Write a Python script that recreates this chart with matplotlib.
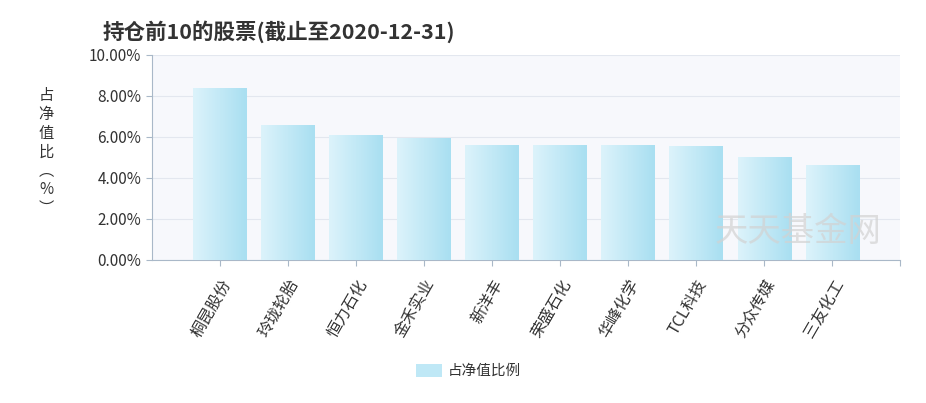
import numpy as np
import matplotlib
matplotlib.use("Agg")
import matplotlib.pyplot as plt
from matplotlib.colors import LinearSegmentedColormap
from matplotlib.patches import Rectangle

plt.rcParams['font.family'] = ['Noto Sans CJK SC', 'DejaVu Sans']

STOCKS = ["桐昆股份", "玲珑轮胎", "恒力石化", "金禾实业", "新洋丰",
          "荣盛石化", "华峰化学", "TCL科技", "分众传媒", "三友化工"]
RATIOS = [8.34, 6.54, 6.05, 5.90, 5.56, 5.56, 5.56, 5.51, 4.98, 4.59]
YTICKS = [0, 2, 4, 6, 8, 10]

cmap = LinearSegmentedColormap.from_list("bar", ["#dcf3fb", "#a9dff1"])
grad = np.linspace(0, 1, 64).reshape(1, -1)

fig = plt.figure(figsize=(9.26, 4.03), dpi=100)
ax = fig.add_axes([0.164, 0.355, 0.808, 0.509])
ax.set_facecolor("#f7f8fc")

x = np.arange(len(STOCKS))
bars = ax.bar(x, RATIOS, width=0.78, color="none", edgecolor="none", zorder=2)
for b in bars:
    ax.imshow(grad, cmap=cmap, aspect="auto", zorder=3,
              extent=[b.get_x(), b.get_x() + b.get_width(), 0, b.get_height()])

ax.set_xlim(-1, 10)
ax.set_ylim(0, 10)
ax.set_yticks(YTICKS)
ax.set_yticklabels([f"{v:.2f}%" for v in YTICKS], fontsize=11, color="#333333")
ax.yaxis.grid(True, color="#e3e7ef", linewidth=0.8, zorder=0)
ax.set_axisbelow(True)
ax.set_xticks(list(x) + [10])
ax.set_xticklabels(STOCKS + [""], rotation=60, ha="right", va="top",
                   rotation_mode="anchor", fontsize=11.5, color="#333333")
ax.tick_params(axis="both", color="#a9b8c8", length=4)
ax.tick_params(axis="x", pad=8)
for s in ["top", "right"]:
    ax.spines[s].set_visible(False)
for s in ["left", "bottom"]:
    ax.spines[s].set_color("#a9b8c8")

fig.text(103 / 926, 1 - 32 / 403, "持仓前10的股票(截止至2020-12-31)",
         fontsize=15.5, fontweight="bold", color="#333333", va="center", ha="left")
fig.text(46 / 926, 1 - 152 / 403, "\n".join("占净值比︵%︶"),
         fontsize=11, color="#333333", ha="center", va="center", linespacing=1.15)

ax.text(0.863, 0.14, "天天基金网", transform=ax.transAxes, fontsize=24,
        color="#d2d2d2", alpha=0.7, ha="center", va="center", zorder=5)

# legend
lx, ly = 416 / 926, 1 - 372 / 403
fig.add_artist(Rectangle((lx, ly - 0.013), 26 / 926, 0.032, transform=fig.transFigure,
                         facecolor="#bfe8f6", edgecolor="none"))
fig.text(lx + 32 / 926, ly + 0.003, "占净值比例", fontsize=10.5, color="#333333",
         va="center", ha="left")

fig.savefig("out.png", dpi=100)
